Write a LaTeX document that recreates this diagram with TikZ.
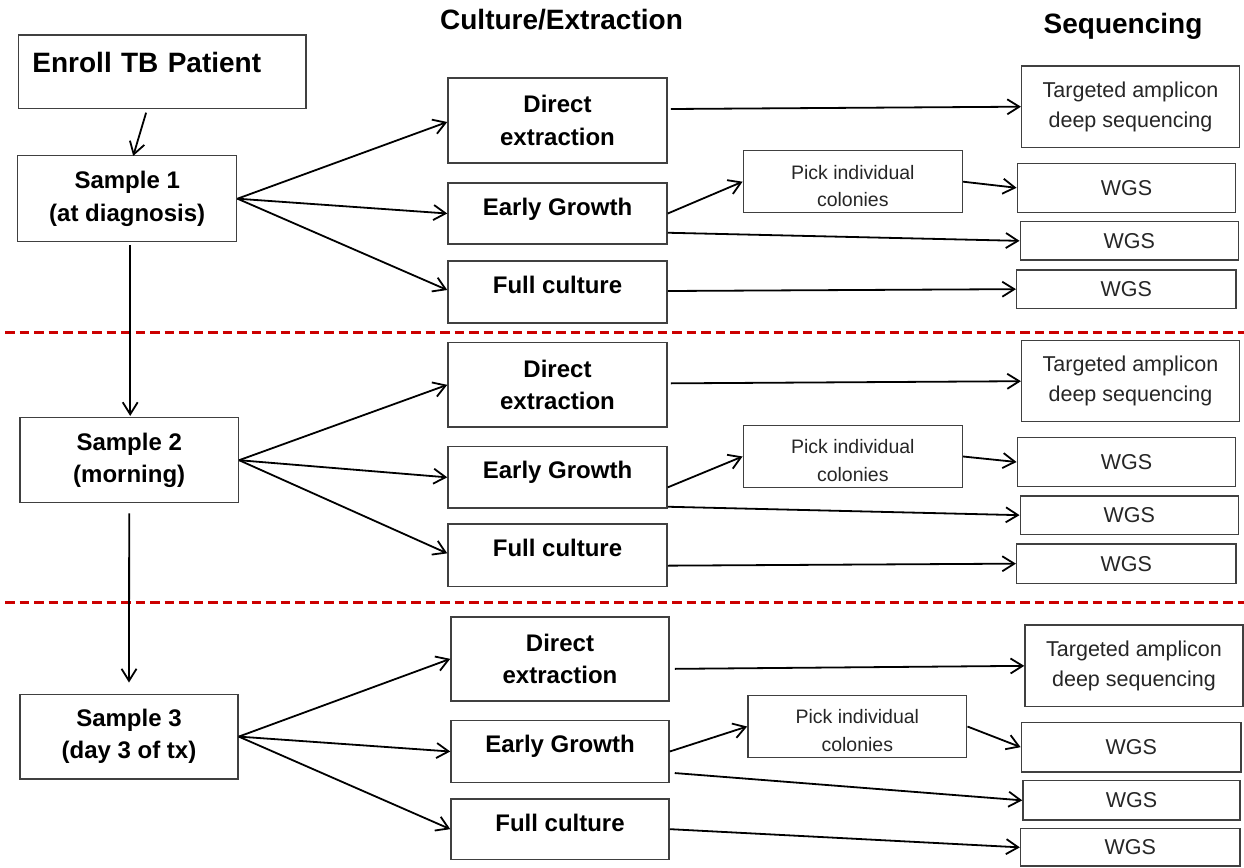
\documentclass[tikz,border=0pt]{standalone}
\usepackage{fontspec}
\setmainfont{Liberation Sans}
\usetikzlibrary{arrows.meta,calc}
\definecolor{sepred}{RGB}{204,0,0}
\tikzset{
  box/.style={draw=black!75, line width=1.5pt, rectangle, inner sep=0pt, align=center},
  bigbox/.style={box, font=\bfseries\fontsize{24}{32.3}\selectfont},
  topbox/.style={bigbox, text height=32pt, text depth=#1},
  seqbox/.style={box, font=\fontsize{21.5}{30}\selectfont, text=black!85},
  pickbox/.style={box, font=\fontsize{19.5}{27.7}\selectfont, text=black!85},
  header/.style={font=\bfseries\fontsize{28}{32}\selectfont, anchor=base, inner sep=0pt},
  arr/.style={-{Straight Barb[length=12pt,width=15pt]}, line width=1.8pt},
  sepline/.style={draw=sepred, line width=3.5pt, dash pattern=on 9.5pt off 5pt},
}
\begin{document}
\begin{tikzpicture}[x=1pt,y=-1pt]
\fill[white] (0,0) rectangle (1244,867);
\useasboundingbox (0,0) rectangle (1244,867);

% separators
\draw[sepline] (5,332.3) -- (1244,332.3);
\draw[sepline] (5,602.3) -- (1244,602.3);

% headers
\node[header] (hcult) at (561.5,30) {Culture/Extraction};
\node[header] (hseq) at (1123,34) {Sequencing};

% left column
\node[box, anchor=north west, font=\bfseries\fontsize{28}{32}\selectfont,
      inner xsep=14pt, text width=259.3pt, align=left,
      text height=37.4pt, text depth=36pt] (enroll) at (17.7,34.3) {Enroll TB Patient};
\node[bigbox, minimum width=219pt, minimum height=86pt] (s1) at (127.2,198.7) {Sample 1\\(at diagnosis)};
\node[bigbox, minimum width=218.3pt, minimum height=85pt] (s2) at (129.2,460.2) {Sample 2\\(morning)};
\node[bigbox, minimum width=218pt, minimum height=84.7pt] (s3) at (129,736.6) {Sample 3\\(day 3 of tx)};

% group 1
\node[bigbox, minimum width=219pt, minimum height=85pt] (dir1) at (557.5,120.5) {Direct\\extraction};
\node[topbox=29pt, minimum width=219pt] (early1) at (557.5,213.5) {Early Growth};
\node[topbox=30pt, minimum width=219pt] (full1) at (557.5,292) {Full culture};
\node[pickbox, minimum width=219pt, minimum height=62pt] (pick1) at (852.8,181.7) {\rule{0pt}{22.6pt}Pick individual\\colonies};
\node[seqbox, minimum width=217.6pt, minimum height=81.3pt] (tgt1) at (1130.5,106.7) {Targeted amplicon\\deep sequencing};
\node[seqbox, minimum width=218.4pt, minimum height=49pt] (wgs1a) at (1126.5,187.8) {WGS};
\node[seqbox, minimum width=218pt, minimum height=38.3pt] (wgs1b) at (1129.3,240.85) {WGS};
\node[seqbox, minimum width=219.3pt, minimum height=38.3pt] (wgs1c) at (1126.35,289.15) {WGS};

% group 2
\node[bigbox, minimum width=219pt, minimum height=84.3pt] (dir2) at (557.5,384.85) {Direct\\extraction};
\node[topbox=29.3pt, minimum width=219pt] (early2) at (557.5,477.35) {Early Growth};
\node[topbox=30.7pt, minimum width=219pt] (full2) at (557.5,555.35) {Full culture};
\node[pickbox, minimum width=219pt, minimum height=61.6pt] (pick2) at (852.8,456.5) {\rule{0pt}{22.6pt}Pick individual\\colonies};
\node[seqbox, minimum width=217.6pt, minimum height=81pt] (tgt2) at (1130.5,381.2) {Targeted amplicon\\deep sequencing};
\node[seqbox, minimum width=218.4pt, minimum height=49.4pt] (wgs2a) at (1126.5,462) {WGS};
\node[seqbox, minimum width=218pt, minimum height=38.3pt] (wgs2b) at (1129.3,515.15) {WGS};
\node[seqbox, minimum width=219.3pt, minimum height=39.3pt] (wgs2c) at (1126.35,563.65) {WGS};

% group 3
\node[bigbox, minimum width=218pt, minimum height=84pt] (dir3) at (560,658.85) {Direct\\extraction};
\node[topbox=29.6pt, minimum width=218pt] (early3) at (560,751.5) {Early Growth};
\node[topbox=28.3pt, minimum width=218pt] (full3) at (560,829.15) {Full culture};
\node[pickbox, minimum width=218.8pt, minimum height=61.6pt] (pick3) at (857.3,726.5) {\rule{0pt}{22.6pt}Pick individual\\colonies};
\node[seqbox, minimum width=218pt, minimum height=81.7pt] (tgt3) at (1134,665.85) {Targeted amplicon\\deep sequencing};
\node[seqbox, minimum width=219.6pt, minimum height=49.7pt] (wgs3a) at (1131.2,747.15) {WGS};
\node[seqbox, minimum width=217pt, minimum height=39.3pt] (wgs3b) at (1131.5,800.35) {WGS};
\node[seqbox, minimum width=219.4pt, minimum height=37.3pt] (wgs3c) at (1130.3,847.35) {WGS};

% connectors group 1
\draw[arr] ($(enroll.south)+(-16,3.5)$) -- ($(s1.north)+(6,1)$);
\draw[arr] ($(s1.south)+(3,2.5)$) -- ($(s2.north)+(1,-1)$);
\draw[arr] (s1.east) -- ($(dir1.west)+(0,1.5)$);
\draw[arr] (s1.east) -- (early1.west);
\draw[arr] (s1.east) -- ($(full1.west)+(0,-2)$);
\draw[arr] ($(dir1.east)+(3,-11.5)$) -- (tgt1.west);
\draw[arr] (early1.east) -- (pick1.west);
\draw[arr] ($(early1.south east)+(0,-12)$) -- (wgs1b.west);
\draw[arr] (pick1.east) -- (wgs1a.west);
\draw[arr] ($(full1.east)+(0,-1)$) -- (wgs1c.west);

% connectors group 2
\draw[arr] ($(s2.south)+(0,10)$) -- ($(s3.north)+(0,-11)$);
\draw[arr] (s2.east) -- (dir2.west);
\draw[arr] (s2.east) -- (early2.west);
\draw[arr] (s2.east) -- ($(full2.west)+(0,-2)$);
\draw[arr] ($(dir2.east)+(3,-1.5)$) -- (tgt2.west);
\draw[arr] ($(early2.east)+(0,10)$) -- (pick2.west);
\draw[arr] ($(early2.south east)+(0,-2)$) -- (wgs2b.west);
\draw[arr] (pick2.east) -- (wgs2a.west);
\draw[arr] ($(full2.east)+(0,10.3)$) -- (wgs2c.west);

% connectors group 3
\draw[arr] (s3.east) -- (dir3.west);
\draw[arr] (s3.east) -- (early3.west);
\draw[arr] (s3.east) -- (full3.west);
\draw[arr] ($(dir3.east)+(5,10)$) -- (tgt3.west);
\draw[arr] (early3.east) -- (pick3.west);
\draw[arr] ($(early3.south east)+(5,-10)$) -- (wgs3b.west);
\draw[arr] (pick3.east) -- (wgs3a.west);
\draw[arr] (full3.east) -- (wgs3c.west);
\end{tikzpicture}
\end{document}
